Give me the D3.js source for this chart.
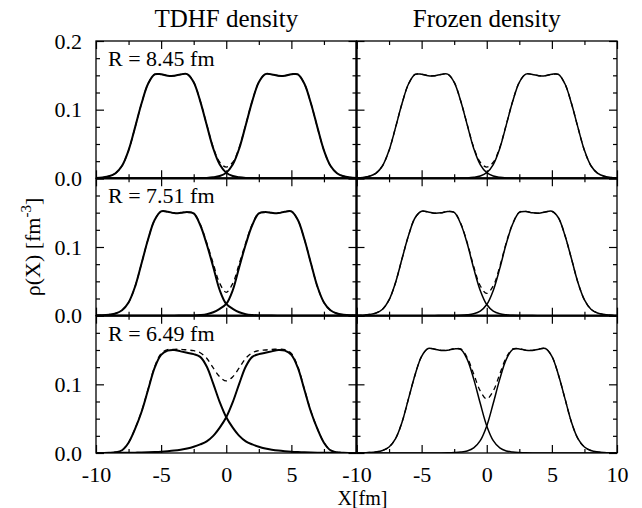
<!DOCTYPE html>
<html>
<head>
<meta charset="utf-8">
<title>TDHF vs frozen density</title>
<script src="https://d3js.org/d3.v7.min.js"></script>
<style>
    body { margin: 0; background: #fff; }
    text { font-family: "Liberation Serif", "Times New Roman", serif; fill: #000; }
</style>
</head>
<body>
<div id="chart"></div>
<script>
// sample positions along X (fm)
const xGrid = [-10,-9.5,-9,-8.5,-8,-7.5,-7,-6.5,-6,-5.5,-5,-4.5,-4,-3.5,-3,-2.5,-2,-1.5,-1,-0.5,0,0.5,1,1.5,2,2.5,3,3.5,4,4.5,5,5.5,6,6.5,7,7.5,8,8.5,9,9.5,10];

const columnTitles = ["TDHF density", "Frozen density"];
const rowLabels = ["R = 8.45 fm", "R = 7.51 fm", "R = 6.49 fm"];
const xMajor = [-10, -5, 0, 5, 10];
const xMinor = [-7.5, -2.5, 2.5, 7.5];
const yMajor = [0, 0.1, 0.2];
const yMinor = [0.025, 0.05, 0.075, 0.125, 0.15, 0.175];

// TDHF, R = 8.45 fm
const tdhfL1 = [0.0006,0.0014,0.0031,0.0075,0.0183,0.0407,0.0742,0.1093,0.1377,0.1514,0.1515,0.1495,0.1494,0.1513,0.1518,0.1399,0.1125,0.0778,0.0436,0.0200,0.0082,0.0034,0.0015,0.0006,0.0003,0.0002,0.0001,0.0001,0,0,0,0,0,0,0,0,0,0,0,0,0];
const tdhfR1 = [0,0,0,0,0,0,0,0,0,0,0,0,0,0.0001,0.0001,0.0002,0.0003,0.0006,0.0015,0.0034,0.0082,0.0200,0.0436,0.0778,0.1125,0.1399,0.1518,0.1513,0.1494,0.1495,0.1515,0.1514,0.1377,0.1093,0.0742,0.0407,0.0183,0.0075,0.0031,0.0014,0.0006];
const tdhfT1 = [0.0006,0.0014,0.0031,0.0075,0.0183,0.0407,0.0742,0.1093,0.1377,0.1514,0.1515,0.1495,0.1494,0.1514,0.1519,0.1401,0.1128,0.0784,0.0451,0.0234,0.0164,0.0234,0.0451,0.0784,0.1128,0.1401,0.1519,0.1514,0.1494,0.1495,0.1515,0.1514,0.1377,0.1093,0.0742,0.0407,0.0183,0.0075,0.0031,0.0014,0.0006];

// TDHF, R = 7.51 fm
const tdhfL2 = [0.0003,0.0006,0.0015,0.0032,0.0079,0.0192,0.0423,0.0764,0.1113,0.1392,0.1518,0.1514,0.1494,0.1497,0.1508,0.1490,0.1320,0.1040,0.0710,0.0370,0.0170,0.0100,0.0050,0.0022,0.0010,0.0004,0.0002,0.0001,0,0,0,0,0,0,0,0,0,0,0,0,0];
const tdhfR2 = [0,0,0,0,0,0,0,0,0,0,0,0,0,0.0001,0.0002,0.0004,0.0010,0.0022,0.0050,0.0100,0.0170,0.0370,0.0710,0.1040,0.1320,0.1490,0.1508,0.1497,0.1494,0.1514,0.1518,0.1392,0.1113,0.0764,0.0423,0.0192,0.0079,0.0032,0.0015,0.0006,0.0003];
const tdhfT2 = [0.0003,0.0006,0.0015,0.0032,0.0079,0.0192,0.0423,0.0764,0.1113,0.1392,0.1518,0.1514,0.1494,0.1498,0.1510,0.1494,0.1330,0.1062,0.0760,0.0470,0.0340,0.0470,0.0760,0.1062,0.1330,0.1494,0.1510,0.1498,0.1494,0.1514,0.1518,0.1392,0.1113,0.0764,0.0423,0.0192,0.0079,0.0032,0.0015,0.0006,0.0003];

// TDHF, R = 6.49 fm
const tdhfL3 = [0,0.0001,0.0003,0.0010,0.0040,0.0150,0.0350,0.0600,0.0920,0.1240,0.1430,0.1490,0.1500,0.1480,0.1460,0.1440,0.1400,0.1260,0.1010,0.0740,0.0520,0.0370,0.0250,0.0170,0.0125,0.0090,0.0065,0.0048,0.0035,0.0026,0.0019,0.0014,0.0010,0.0007,0.0005,0.0003,0.0002,0.0001,0.0001,0,0];
const tdhfR3 = [0,0,0.0001,0.0001,0.0002,0.0003,0.0005,0.0007,0.0010,0.0014,0.0019,0.0026,0.0035,0.0048,0.0065,0.0090,0.0125,0.0170,0.0250,0.0370,0.0520,0.0740,0.1010,0.1260,0.1400,0.1440,0.1460,0.1480,0.1500,0.1490,0.1430,0.1240,0.0920,0.0600,0.0350,0.0150,0.0040,0.0010,0.0003,0.0001,0];
const tdhfT3 = [0,0.0001,0.0004,0.0011,0.0042,0.0153,0.0355,0.0607,0.0930,0.1254,0.1449,0.1505,0.1510,0.1510,0.1500,0.1490,0.1460,0.1380,0.1240,0.1110,0.1050,0.1110,0.1240,0.1380,0.1460,0.1490,0.1500,0.1510,0.1510,0.1505,0.1449,0.1254,0.0930,0.0607,0.0355,0.0153,0.0042,0.0011,0.0004,0.0001,0];

// Frozen, R = 8.45 fm
const frozenL1 = [0.0006,0.0014,0.0031,0.0075,0.0183,0.0407,0.0742,0.1093,0.1377,0.1514,0.1515,0.1495,0.1494,0.1513,0.1518,0.1399,0.1125,0.0778,0.0436,0.0200,0.0082,0.0034,0.0015,0.0006,0.0003,0.0002,0.0001,0.0001,0,0,0,0,0,0,0,0,0,0,0,0,0];
const frozenR1 = [0,0,0,0,0,0,0,0,0,0,0,0,0,0.0001,0.0001,0.0002,0.0003,0.0006,0.0015,0.0034,0.0082,0.0200,0.0436,0.0778,0.1125,0.1399,0.1518,0.1513,0.1494,0.1495,0.1515,0.1514,0.1377,0.1093,0.0742,0.0407,0.0183,0.0075,0.0031,0.0014,0.0006];
const frozenT1 = [0.0006,0.0014,0.0031,0.0075,0.0183,0.0407,0.0742,0.1093,0.1377,0.1514,0.1515,0.1495,0.1494,0.1514,0.1519,0.1401,0.1128,0.0784,0.0451,0.0234,0.0164,0.0234,0.0451,0.0784,0.1128,0.1401,0.1519,0.1514,0.1494,0.1495,0.1515,0.1514,0.1377,0.1093,0.0742,0.0407,0.0183,0.0075,0.0031,0.0014,0.0006];

// Frozen, R = 7.51 fm
const frozenL2 = [0.0003,0.0007,0.0017,0.0039,0.0094,0.0230,0.0484,0.0832,0.1170,0.1426,0.1520,0.1510,0.1492,0.1498,0.1517,0.1503,0.1338,0.1050,0.0688,0.0368,0.0162,0.0067,0.0028,0.0013,0.0006,0.0003,0.0001,0.0001,0,0,0,0,0,0,0,0,0,0,0,0,0];
const frozenR2 = [0,0,0,0,0,0,0,0,0,0,0,0,0,0.0001,0.0001,0.0003,0.0006,0.0013,0.0028,0.0067,0.0162,0.0368,0.0688,0.1050,0.1338,0.1503,0.1517,0.1498,0.1492,0.1510,0.1520,0.1426,0.1170,0.0832,0.0484,0.0230,0.0094,0.0039,0.0017,0.0007,0.0003];
const frozenT2 = [0.0003,0.0007,0.0017,0.0039,0.0094,0.0230,0.0484,0.0832,0.1170,0.1426,0.1520,0.1510,0.1492,0.1499,0.1518,0.1506,0.1344,0.1063,0.0716,0.0435,0.0324,0.0435,0.0716,0.1063,0.1344,0.1506,0.1518,0.1499,0.1492,0.1510,0.1520,0.1426,0.1170,0.0832,0.0484,0.0230,0.0094,0.0039,0.0017,0.0007,0.0003];

// Frozen, R = 6.49 fm
const frozenL3 = [0.0002,0.0003,0.0007,0.0016,0.0036,0.0087,0.0210,0.0452,0.0796,0.1140,0.1408,0.1521,0.1512,0.1493,0.1496,0.1516,0.1510,0.1364,0.1076,0.0724,0.0394,0.0180,0.0074,0.0030,0.0014,0.0007,0.0003,0.0001,0.0001,0,0,0,0,0,0,0,0,0,0,0,0];
const frozenR3 = [0,0,0,0,0,0,0,0,0,0,0,0,0.0001,0.0001,0.0003,0.0007,0.0014,0.0030,0.0074,0.0180,0.0394,0.0724,0.1076,0.1364,0.1510,0.1516,0.1496,0.1493,0.1512,0.1521,0.1408,0.1140,0.0796,0.0452,0.0210,0.0087,0.0036,0.0016,0.0007,0.0003,0.0002];
const frozenT3 = [0.0002,0.0003,0.0007,0.0016,0.0036,0.0087,0.0210,0.0452,0.0796,0.1140,0.1408,0.1521,0.1513,0.1494,0.1499,0.1520,0.1516,0.1390,0.1150,0.0904,0.0788,0.0904,0.1150,0.1390,0.1516,0.1520,0.1499,0.1494,0.1513,0.1521,0.1408,0.1140,0.0796,0.0452,0.0210,0.0087,0.0036,0.0016,0.0007,0.0003,0.0002];

const panels = [
    {col: 0, row: 0, frags: [tdhfL1, tdhfR1], total: tdhfT1},
    {col: 0, row: 1, frags: [tdhfL2, tdhfR2], total: tdhfT2},
    {col: 0, row: 2, frags: [tdhfL3, tdhfR3], total: tdhfT3},
    {col: 1, row: 0, frags: [frozenL1, frozenR1], total: frozenT1},
    {col: 1, row: 1, frags: [frozenL2, frozenR2], total: frozenT2},
    {col: 1, row: 2, frags: [frozenL3, frozenR3], total: frozenT3}
];

const W = 642, H = 508;
const plotLeft = 96, plotTop = 41;
const panelW = 260.5, rowH = 137.33;

const svg = d3.select("#chart").append("svg")
    .attr("width", W)
    .attr("height", H);

const x = d3.scaleLinear().domain([-10, 10]).range([0, panelW]);
const y = d3.scaleLinear().domain([0, 0.2]).range([rowH, 0]);

const line = d3.line()
    .x((d, i) => x(xGrid[i]))
    .y(d => y(d))
    .curve(d3.curveCatmullRom.alpha(0.5));

svg.append("defs").append("clipPath").attr("id", "clip")
    .append("rect").attr("width", panelW).attr("height", rowH);

function styleAxis(g) {
    g.select(".domain").remove();
    g.selectAll("line").attr("stroke", "#000").attr("stroke-width", 1.2);
    g.selectAll("text")
        .attr("font-family", "Liberation Serif, Times New Roman, serif")
        .attr("font-size", 22);
    g.attr("font-family", null).attr("font-size", null);
}

panels.forEach(p => {
    const g = svg.append("g")
        .attr("transform", `translate(${plotLeft + p.col * panelW},${plotTop + p.row * rowH})`);

    // ticks on all four sides, pointing inward
    g.append("g").attr("transform", `translate(0,${rowH})`)
        .call(d3.axisBottom(x).tickValues(xMajor).tickSizeInner(-8).tickSizeOuter(0).tickPadding(13)
            .tickFormat(d => (p.row === 2 && !(p.col === 0 && d === 10)) ? d : ""))
        .call(styleAxis);
    g.append("g").attr("transform", `translate(0,${rowH})`)
        .call(d3.axisBottom(x).tickValues(xMinor).tickSizeInner(-4).tickSizeOuter(0).tickFormat(""))
        .call(styleAxis);
    g.append("g")
        .call(d3.axisTop(x).tickValues(xMajor).tickSizeInner(-8).tickSizeOuter(0).tickFormat(""))
        .call(styleAxis);
    g.append("g")
        .call(d3.axisTop(x).tickValues(xMinor).tickSizeInner(-4).tickSizeOuter(0).tickFormat(""))
        .call(styleAxis);
    g.append("g")
        .call(d3.axisLeft(y).tickValues(yMajor).tickSizeInner(-8).tickSizeOuter(0).tickPadding(14)
            .tickFormat(d => (p.col === 0 && !(p.row > 0 && d === 0.2)) ? d3.format(".1f")(d) : ""))
        .call(styleAxis);
    g.append("g")
        .call(d3.axisLeft(y).tickValues(yMinor).tickSizeInner(-4).tickSizeOuter(0).tickFormat(""))
        .call(styleAxis);
    g.append("g").attr("transform", `translate(${panelW},0)`)
        .call(d3.axisRight(y).tickValues(yMajor).tickSizeInner(-8).tickSizeOuter(0).tickFormat(""))
        .call(styleAxis);
    g.append("g").attr("transform", `translate(${panelW},0)`)
        .call(d3.axisRight(y).tickValues(yMinor).tickSizeInner(-4).tickSizeOuter(0).tickFormat(""))
        .call(styleAxis);

    const curves = g.append("g").attr("clip-path", "url(#clip)");
    curves.append("path")
        .attr("d", line(p.total))
        .attr("fill", "none")
        .attr("stroke", "#000")
        .attr("stroke-width", 1.3)
        .attr("stroke-dasharray", "5,4");
    p.frags.forEach(f => {
        curves.append("path")
            .attr("d", line(f))
            .attr("fill", "none")
            .attr("stroke", "#000")
            .attr("stroke-width", p.col === 0 ? 2 : 1.5);
    });

    g.append("rect")
        .attr("width", panelW).attr("height", rowH)
        .attr("fill", "none").attr("stroke", "#000").attr("stroke-width", 1.3);

    if (p.col === 0) {
        g.append("text")
            .attr("x", 12).attr("y", 25)
            .attr("font-size", 22)
            .text(rowLabels[p.row]);
    }
});

// heavier separators between panels
svg.append("line")
    .attr("x1", plotLeft + panelW).attr("x2", plotLeft + panelW)
    .attr("y1", plotTop).attr("y2", plotTop + 3 * rowH)
    .attr("stroke", "#000").attr("stroke-width", 2.2);
[1, 2].forEach(r => {
    svg.append("line")
        .attr("x1", plotLeft).attr("x2", plotLeft + 2 * panelW)
        .attr("y1", plotTop + r * rowH).attr("y2", plotTop + r * rowH)
        .attr("stroke", "#000").attr("stroke-width", 2.2);
});

// column titles
columnTitles.forEach((t, i) => {
    svg.append("text")
        .attr("x", plotLeft + i * panelW + panelW / 2)
        .attr("y", 27)
        .attr("text-anchor", "middle")
        .attr("font-size", 25)
        .text(t);
});

// axis labels
svg.append("text")
    .attr("x", plotLeft + panelW + 6)
    .attr("y", 505)
    .attr("text-anchor", "middle")
    .attr("font-size", 20)
    .text("X[fm]");

const yLabel = svg.append("text")
    .attr("transform", "translate(40,247) rotate(-90)")
    .attr("text-anchor", "middle")
    .attr("font-size", 22);
yLabel.append("tspan").text("ρ(X) [fm");
yLabel.append("tspan").attr("font-size", 15).attr("dy", -9).text("-3");
yLabel.append("tspan").attr("dy", 9).text("]");
</script>
</body>
</html>
